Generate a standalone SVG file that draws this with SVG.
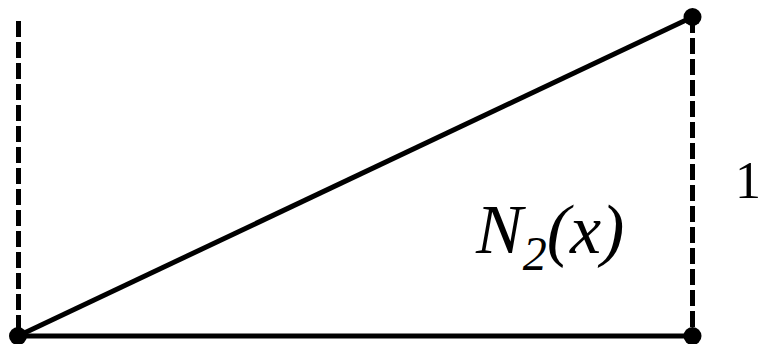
<svg xmlns="http://www.w3.org/2000/svg" width="760" height="344" viewBox="0 0 760 344">
<style>
.ln{stroke:#000;stroke-width:5;fill:none}
.dash{stroke:#000;stroke-width:5;fill:none;stroke-dasharray:16 5}
.dot{fill:#000}
.t{font-family:"Liberation Serif","Times New Roman",serif;fill:#000}
</style>
<rect width="760" height="344" fill="#fff"/>
<g id="connectors">
<line class="dash" x1="18.5" y1="21" x2="18.5" y2="336"/>
<line class="dash" x1="692.5" y1="17" x2="692.5" y2="336"/>
<line class="ln" x1="18" y1="336" x2="692.5" y2="17"/>
<line class="ln" x1="18" y1="336" x2="692.5" y2="336"/>
</g>
<g id="p0"><circle class="dot" cx="18" cy="336" r="9"/></g>
<g id="p1"><circle class="dot" cx="692.5" cy="17" r="9"/></g>
<g id="p2"><circle class="dot" cx="692.5" cy="336" r="9"/></g>
<g id="label-N2">
<text class="t" x="476" y="253" font-size="70" font-style="italic">N<tspan font-size="48" dy="17">2</tspan><tspan dy="-17">(x)</tspan></text>
</g>
<g id="label-1"><text class="t" x="735" y="198" font-size="52">1</text></g>
</svg>
